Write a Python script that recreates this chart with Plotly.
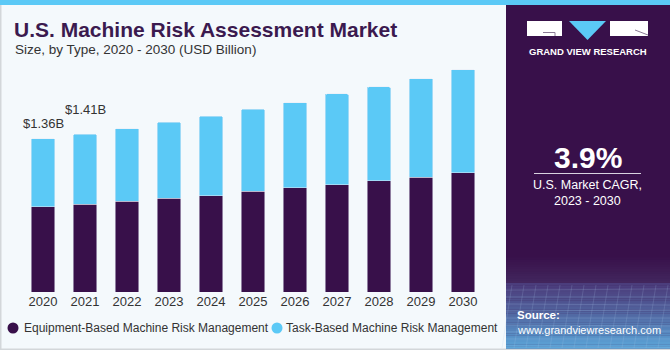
import plotly.graph_objects as go

# ---- data ----
years = ["2020", "2021", "2022", "2023", "2024", "2025", "2026", "2027", "2028", "2029", "2030"]
equipment = [0.757, 0.778, 0.807, 0.831, 0.852, 0.893, 0.925, 0.952, 0.987, 1.018, 1.058]
task = [0.603, 0.622, 0.642, 0.677, 0.709, 0.728, 0.754, 0.805, 0.832, 0.874, 0.914]
label_years = ["2020", "2021"]
label_texts = ["$1.36B", "$1.41B"]
series_names = ["Equipment-Based Machine Risk Management", "Task-Based Machine Risk Management"]

DARK = "#38104A"
CYAN = "#5BC9F6"
BG = "#F4F9FC"

W, H = 670, 350
L, R, T, B = 22, 186, 60, 58
PW, PH = W - L - R, H - T - B


def fx(px):
    return (px - L) / PW


def fy(py):
    return (H - B - py) / PH


fig = go.Figure()
fig.add_trace(go.Bar(x=years, y=equipment, name=series_names[0], marker_color=DARK,
                     showlegend=False))
fig.add_trace(go.Bar(x=years, y=task, name=series_names[1], marker_color=CYAN,
                     showlegend=False))

shapes = []
# left/bottom light border
shapes.append(dict(type="rect", xref="paper", yref="paper", x0=fx(0), x1=fx(1.5), y0=fy(350), y1=fy(0),
                   fillcolor="#D3D7DA", line_width=0, layer="below"))
shapes.append(dict(type="rect", xref="paper", yref="paper", x0=fx(0), x1=fx(670), y0=fy(350), y1=fy(348.5),
                   fillcolor="#D3D7DA", line_width=0, layer="below"))
# top cyan strip
shapes.append(dict(type="rect", xref="paper", yref="paper", x0=fx(0), x1=fx(670), y0=fy(5), y1=fy(0),
                   fillcolor=CYAN, line_width=0))
# right panel
shapes.append(dict(type="rect", xref="paper", yref="paper", x0=fx(506), x1=fx(670), y0=fy(348.5), y1=fy(5),
                   fillcolor=DARK, line_width=0))


def mix(c1, c2, t):
    a = [int(c1[i:i + 2], 16) for i in (1, 3, 5)]
    b = [int(c2[i:i + 2], 16) for i in (1, 3, 5)]
    return "#%02x%02x%02x" % tuple(round(a[k] + (b[k] - a[k]) * t) for k in range(3))


# gradient at bottom of panel
n1 = 12
for i in range(n1):
    y0p = 255 + i * (283 - 255) / n1
    y1p = 255 + (i + 1) * (283 - 255) / n1
    shapes.append(dict(type="rect", xref="paper", yref="paper", x0=fx(506), x1=fx(670),
                       y0=fy(y1p + 0.3), y1=fy(y0p), fillcolor=mix(DARK, "#43285F", i / n1), line_width=0))
n2 = 30
for i in range(n2):
    y0p = 283 + i * (348.5 - 283) / n2
    y1p = 283 + (i + 1) * (348.5 - 283) / n2
    shapes.append(dict(type="rect", xref="paper", yref="paper", x0=fx(506), x1=fx(670),
                       y0=fy(y1p + 0.3), y1=fy(y0p), fillcolor=mix("#4B3D7C", "#5CAADD", (i / n2) ** 1.2),
                       line_width=0))
# faint grid lines in gradient area
for k in range(9):
    yy = 290 + k * 7
    shapes.append(dict(type="line", xref="paper", yref="paper", x0=fx(506), x1=fx(670), y0=fy(yy), y1=fy(yy + (k % 3) - 1),
                       line=dict(color="rgba(170,200,235,0.22)", width=1)))
for k in range(14):
    xx = 506 + k * 12
    shapes.append(dict(type="line", xref="paper", yref="paper", x0=fx(xx + 6), x1=fx(xx - 4), y0=fy(285), y1=fy(348),
                       line=dict(color="rgba(170,200,235,0.18)", width=1)))
# separator line under CAGR
shapes.append(dict(type="line", xref="paper", yref="paper", x0=fx(534), x1=fx(641), y0=fy(173.5), y1=fy(173.5),
                   line=dict(color="#D9D2E0", width=1.2)))
# logo
shapes.append(dict(type="rect", xref="paper", yref="paper", x0=fx(527), x1=fx(562), y0=fy(36), y1=fy(21),
                   fillcolor="white", line_width=0))
shapes.append(dict(type="rect", xref="paper", yref="paper", x0=fx(610), x1=fx(648), y0=fy(36), y1=fy(21),
                   fillcolor="white", line_width=0))
shapes.append(dict(type="path", xref="paper", yref="paper",
                   path="M %f %f L %f %f L %f %f Z" % (fx(569), fy(21), fx(606), fy(21), fx(587.5), fy(40)),
                   fillcolor=CYAN, line_width=0))
shapes.append(dict(type="path", xref="paper", yref="paper",
                   path="M %f %f L %f %f L %f %f" % (fx(543), fy(32.5), fx(555), fy(32.5), fx(555), fy(36)),
                   line=dict(color="#8A7A95", width=1)))
shapes.append(dict(type="line", xref="paper", yref="paper", x0=fx(635), x1=fx(648), y0=fy(30), y1=fy(35),
                   line=dict(color="#8A7A95", width=1)))
# legend markers
legend_colors = [DARK, CYAN]
legend_marker_x = [13, 277]
legend_text_x = [22, 284]
for c, mx in zip(legend_colors, legend_marker_x):
    shapes.append(dict(type="circle", xref="paper", yref="paper", x0=fx(mx - 5.5), x1=fx(mx + 5.5),
                       y0=fy(328 + 5.5), y1=fy(328 - 5.5), fillcolor=c, line_width=0))

annotations = []
annotations.append(dict(xref="paper", yref="paper", x=fx(12), y=fy(29), xanchor="left", yanchor="middle",
                        text="<b>U.S. Machine Risk Assessment Market</b>", showarrow=False,
                        font=dict(family="Liberation Sans", size=21, color="#3B1A4F")))
annotations.append(dict(xref="paper", yref="paper", x=fx(13), y=fy(50), xanchor="left", yanchor="middle",
                        text="Size, by Type, 2020 - 2030 (USD Billion)", showarrow=False,
                        font=dict(family="Liberation Sans", size=13.5, color="#333333")))
# legend text
for name, tx in zip(series_names, legend_text_x):
    annotations.append(dict(xref="paper", yref="paper", x=fx(tx), y=fy(328), xanchor="left", yanchor="middle",
                            text=name, showarrow=False,
                            font=dict(family="Liberation Sans", size=12, color="#333333")))
# value labels (category axis: position by category index)
totals = [e + t for e, t in zip(equipment, task)]
label_shift = [6, 15]
for yr, txt, sh in zip(label_years, label_texts, label_shift):
    i = years.index(yr)
    annotations.append(dict(x=i, y=totals[i], xref="x", yref="y", text=txt, showarrow=False,
                            yanchor="bottom", yshift=sh,
                            font=dict(family="Liberation Sans", size=13, color="#333333")))
# right panel text
annotations.append(dict(xref="paper", yref="paper", x=fx(587.5), y=fy(51.5), xanchor="center", yanchor="middle",
                        text="<b>GRAND VIEW RESEARCH</b>", showarrow=False,
                        font=dict(family="Liberation Sans", size=9.5, color="white")))
annotations.append(dict(xref="paper", yref="paper", x=fx(587.5), y=fy(157), xanchor="center", yanchor="middle",
                        text="<b>3.9%</b>", showarrow=False,
                        font=dict(family="Liberation Sans", size=30, color="white")))
annotations.append(dict(xref="paper", yref="paper", x=fx(587.5), y=fy(185), xanchor="center", yanchor="middle",
                        text="U.S. Market CAGR,", showarrow=False,
                        font=dict(family="Liberation Sans", size=12.5, color="white")))
annotations.append(dict(xref="paper", yref="paper", x=fx(587.5), y=fy(201), xanchor="center", yanchor="middle",
                        text="2023 - 2030", showarrow=False,
                        font=dict(family="Liberation Sans", size=12.5, color="white")))
annotations.append(dict(xref="paper", yref="paper", x=fx(515), y=fy(315), xanchor="left", yanchor="middle",
                        text="<b>Source:</b>", showarrow=False,
                        font=dict(family="Liberation Sans", size=11.5, color="white")))
annotations.append(dict(xref="paper", yref="paper", x=fx(515), y=fy(330), xanchor="left", yanchor="middle",
                        text="www.grandviewresearch.com", showarrow=False,
                        font=dict(family="Liberation Sans", size=11, color="white")))

fig.update_layout(
    width=W, height=H,
    margin=dict(l=L, r=R, t=T, b=B, pad=0),
    paper_bgcolor=BG, plot_bgcolor=BG,
    barmode="stack", bargap=0.43, barcornerradius=2,
    font=dict(family="Liberation Sans", color="#333333"),
    xaxis=dict(type="category", categoryorder="array", categoryarray=years, range=[-0.5, len(years) - 0.5],
               showgrid=False, showline=False, ticks="", zeroline=False,
               tickfont=dict(size=13, color="#333333"), fixedrange=True),
    yaxis=dict(visible=False, range=[0, 2.058], showgrid=False, zeroline=False, fixedrange=True),
    shapes=shapes, annotations=annotations,
    showlegend=False,
)

fig.write_html("out.html", config={"displayModeBar": False})
